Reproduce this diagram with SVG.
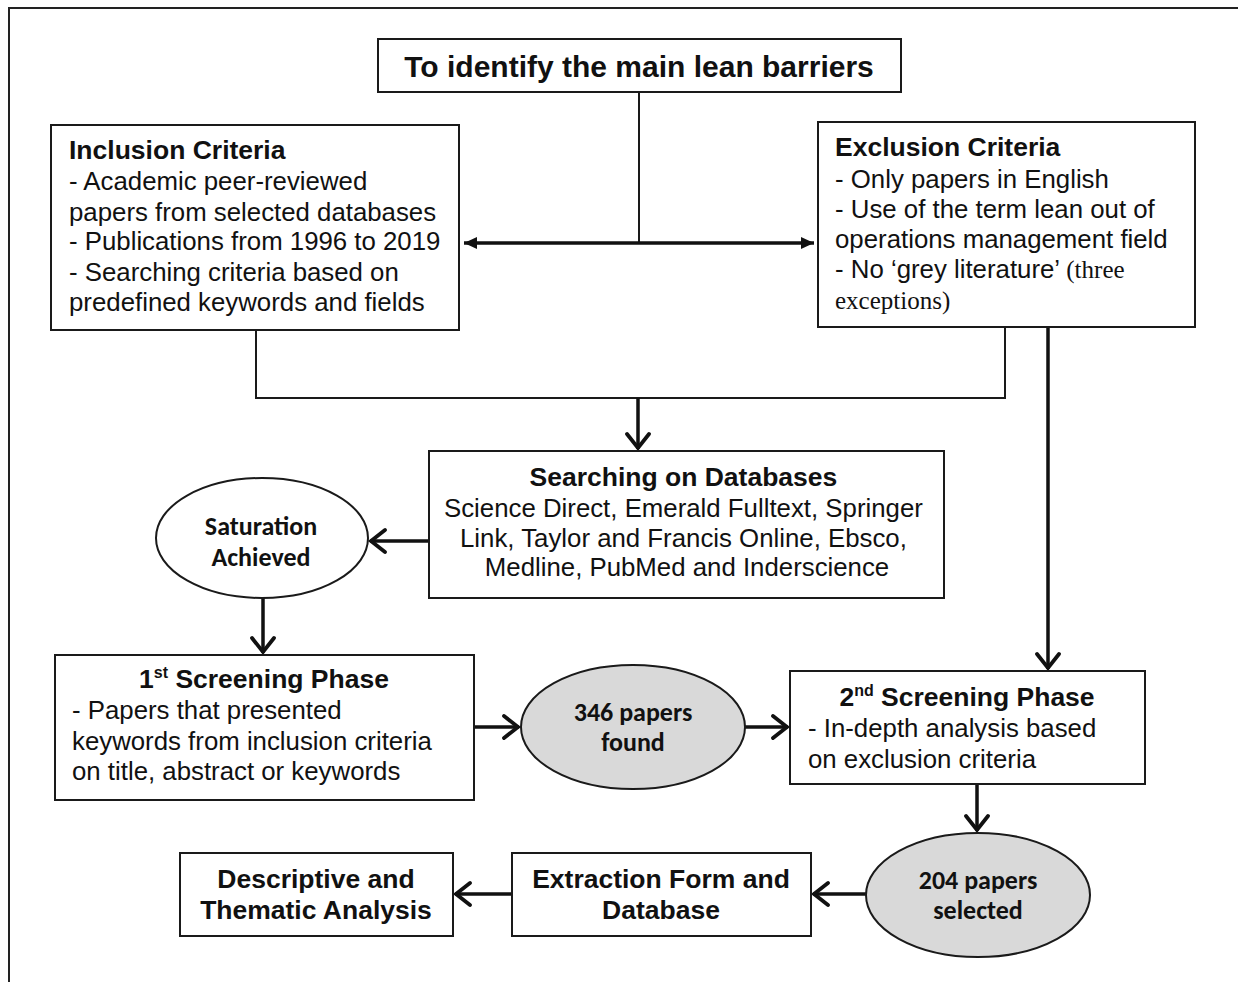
<svg xmlns="http://www.w3.org/2000/svg" width="1238" height="982" viewBox="0 0 1238 982">
<style>
.box{fill:#fff;stroke:#1a1a1a;stroke-width:2}
.ell{stroke:#1a1a1a;stroke-width:2}
.t{font-family:"Liberation Sans",Arial,sans-serif;font-size:25.8px;fill:#111}
.b{font-weight:bold;font-size:26.5px}
.c{font-family:Carlito,Lato,"Liberation Sans",sans-serif;font-weight:bold;font-size:26px;fill:#111}
.s{font-family:"Liberation Serif","Times New Roman",serif;font-size:25px}
.thin{fill:none;stroke:#1a1a1a;stroke-width:2}
.thick{fill:none;stroke:#111;stroke-width:3.5}
</style>
<defs>
<marker id="chev" markerUnits="userSpaceOnUse" markerWidth="26" markerHeight="28" refX="18" refY="13" orient="auto">
<path d="M3,2 L17,13 L3,24" fill="none" stroke="#111" stroke-width="3.8" stroke-linecap="round" stroke-linejoin="miter"/>
</marker>
<marker id="tri" markerUnits="userSpaceOnUse" markerWidth="16" markerHeight="14" refX="13" refY="6" orient="auto-start-reverse">
<path d="M0,0 L13,6 L0,12 Z" fill="#111"/>
</marker>
</defs>
<rect x="9" y="8" width="1240" height="990" fill="#fff" stroke="#222" stroke-width="2"/>

<g id="connectors">
<line class="thin" x1="639" y1="92" x2="639" y2="243"/>
<line class="thick" x1="464" y1="243" x2="814" y2="243" marker-start="url(#tri)" marker-end="url(#tri)"/>
<polyline class="thin" points="256,330 256,398 1005,398 1005,327"/>
<line class="thick" x1="638" y1="398" x2="638" y2="449" marker-end="url(#chev)"/>
<line class="thick" x1="1048" y1="327" x2="1048" y2="669" marker-end="url(#chev)"/>
<line class="thick" x1="429" y1="541" x2="370" y2="541" marker-end="url(#chev)"/>
<line class="thick" x1="263" y1="598" x2="263" y2="653" marker-end="url(#chev)"/>
<line class="thick" x1="474" y1="727" x2="519" y2="727" marker-end="url(#chev)"/>
<line class="thick" x1="745" y1="727" x2="788" y2="727" marker-end="url(#chev)"/>
<line class="thick" x1="977" y1="784" x2="977" y2="831" marker-end="url(#chev)"/>
<line class="thick" x1="866" y1="894" x2="813" y2="894" marker-end="url(#chev)"/>
<line class="thick" x1="512" y1="894" x2="455" y2="894" marker-end="url(#chev)"/>
</g>

<g id="goal">
<rect class="box" x="378" y="39" width="523" height="53"/>
<text class="t b" x="639" y="77" text-anchor="middle" style="font-size:30px">To identify the main lean barriers</text>
</g>

<g id="inclusion">
<rect class="box" x="51" y="125" width="408" height="205"/>
<text class="t" x="69" y="159"><tspan class="b">Inclusion Criteria</tspan>
<tspan x="69" y="190">- Academic peer-reviewed</tspan>
<tspan x="69" y="221">papers from selected databases</tspan>
<tspan x="69" y="250">- Publications from 1996 to 2019</tspan>
<tspan x="69" y="281">- Searching criteria based on</tspan>
<tspan x="69" y="311">predefined keywords and fields</tspan></text>
</g>

<g id="exclusion">
<rect class="box" x="818" y="122" width="377" height="205"/>
<text class="t" x="835" y="156"><tspan class="b">Exclusion Criteria</tspan>
<tspan x="835" y="188">- Only papers in English</tspan>
<tspan x="835" y="218">- Use of the term lean out of</tspan>
<tspan x="835" y="248">operations management field</tspan>
<tspan x="835" y="278">- No ‘grey literature’ <tspan class="s">(three</tspan></tspan>
<tspan x="835" y="309" class="s">exceptions)</tspan></text>
</g>

<g id="searching">
<rect class="box" x="429" y="451" width="515" height="147"/>
<text class="t" text-anchor="middle" x="687" y="486"><tspan class="b">Searching on Databases</tspan>
<tspan x="687" y="517">Science Direct, Emerald Fulltext, Springer</tspan>
<tspan x="687" y="547">Link, Taylor and Francis Online, Ebsco,</tspan>
<tspan x="687" y="576">Medline, PubMed and Inderscience</tspan></text>
</g>

<g id="saturation">
<ellipse class="ell" fill="#fff" cx="262" cy="538" rx="106" ry="60"/>
<text class="c" text-anchor="middle" x="261" y="535">Saturation<tspan x="261" y="566">Achieved</tspan></text>
</g>

<g id="screening1">
<rect class="box" x="55" y="655" width="419" height="145"/>
<text class="t b" text-anchor="middle" x="264" y="688">1<tspan font-size="16" dy="-10">st</tspan><tspan dy="10"> Screening Phase</tspan></text>
<text class="t" x="72" y="719">- Papers that presented<tspan x="72" y="750">keywords from inclusion criteria</tspan><tspan x="72" y="780">on title, abstract or keywords</tspan></text>
</g>

<g id="found346">
<ellipse class="ell" fill="#d9d9d9" cx="633" cy="727" rx="112" ry="62"/>
<text class="c" text-anchor="middle" x="633" y="721">346 papers<tspan x="633" y="751">found</tspan></text>
</g>

<g id="screening2">
<rect class="box" x="790" y="671" width="355" height="113"/>
<text class="t b" text-anchor="middle" x="967" y="706">2<tspan font-size="16" dy="-10">nd</tspan><tspan dy="10"> Screening Phase</tspan></text>
<text class="t" x="808" y="737">- In-depth analysis based<tspan x="808" y="768">on exclusion criteria</tspan></text>
</g>

<g id="selected204">
<ellipse class="ell" fill="#d9d9d9" cx="978" cy="895" rx="112" ry="62"/>
<text class="c" text-anchor="middle" x="978" y="889">204 papers<tspan x="978" y="919">selected</tspan></text>
</g>

<g id="extraction">
<rect class="box" x="512" y="853" width="299" height="83"/>
<text class="t b" text-anchor="middle" x="661" y="888">Extraction Form and<tspan x="661" y="919">Database</tspan></text>
</g>

<g id="descriptive">
<rect class="box" x="180" y="853" width="273" height="83"/>
<text class="t b" text-anchor="middle" x="316" y="888">Descriptive and<tspan x="316" y="919">Thematic Analysis</tspan></text>
</g>
</svg>
